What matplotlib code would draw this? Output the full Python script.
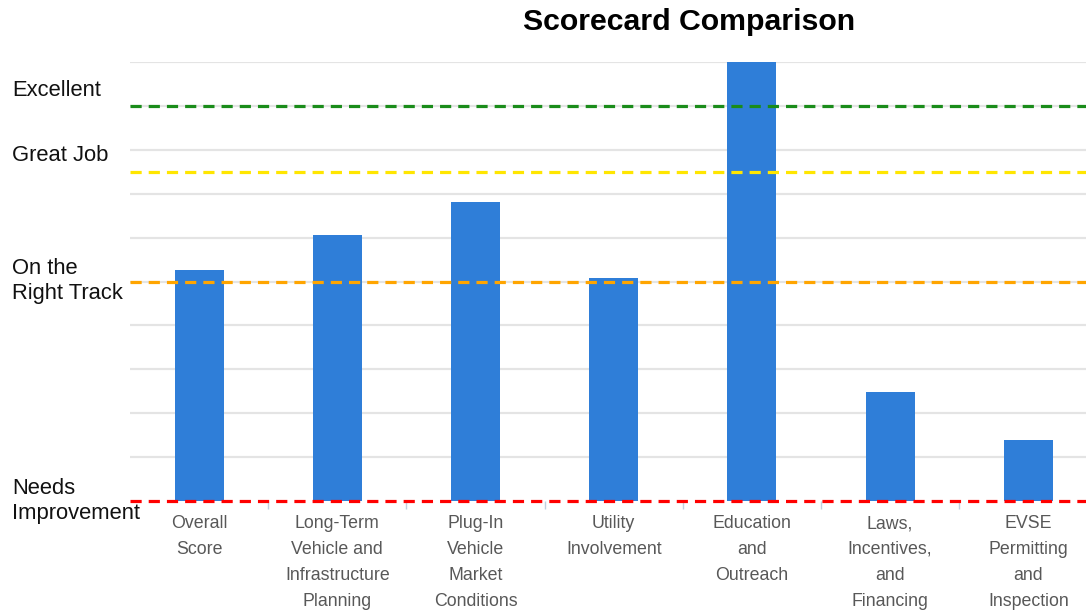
import matplotlib
matplotlib.use("Agg")
import matplotlib.pyplot as plt
from matplotlib.transforms import blended_transform_factory

categories = ["Overall\nScore", "Long-Term\nVehicle and\nInfrastructure\nPlanning",
              "Plug-In\nVehicle\nMarket\nConditions", "Utility\nInvolvement",
              "Education\nand\nOutreach", "Laws,\nIncentives,\nand\nFinancing",
              "EVSE\nPermitting\nand\nInspection"]
scores = [52.7, 60.7, 68.0, 50.7, 100.0, 24.8, 14.0]

level_names = ["Excellent", "Great Job", "On the\nRight Track", "Needs\nImprovement"]
level_values = [90, 75, 50, 0]
level_colors = ["#1a8c1a", "#ffe600", "#ffa500", "#ff0000"]
level_label_y = [93.6, 78.6, 50.0, 0.0]

plt.rcParams['font.family'] = ['Liberation Sans', 'DejaVu Sans']

W, H = 1086, 613
fig = plt.figure(figsize=(W / 100, H / 100), dpi=100)
ax = fig.add_axes([130 / W, 1 - 501 / H, (W - 130) / W, (501 - 62) / H])

x = list(range(len(categories)))
ax.set_ylim(0, 100)
ax.set_xlim(-0.5, -0.5 + (W - 130) / 138.2)

for v in range(10, 101, 10):
    ax.axhline(v, color="#e4e4e4", lw=1.6, zorder=0)

ax.bar(x, scores, width=0.355, color="#2f7ed8", zorder=2)

for v, c in zip(level_values, level_colors):
    ax.axhline(v, color=c, lw=2.3, ls=(0, (3.5, 2.2)), zorder=3, clip_on=False)

for s in ax.spines.values():
    s.set_visible(False)
ax.set_yticks([])
ax.set_xticks([i + 0.5 for i in range(len(categories) - 1)], minor=False)
ax.tick_params(axis='x', length=6, color="#c0d0e0", width=1, labelbottom=False)
for i, lab in enumerate(categories):
    ax.text(i, -3.2, lab, ha='center', va='top', fontsize=12.8, color="#585858",
            linespacing=1.68)

tr = blended_transform_factory(fig.transFigure, ax.transData)
for name, yv in zip(level_names, level_label_y):
    ax.text(12 / W, yv, name, transform=tr, ha='left', va='center', fontsize=15.8,
            color="#111111", linespacing=1.25, clip_on=False)

fig.text(689 / W, 1 - 22 / H, "Scorecard Comparison", ha='center', va='center',
         fontsize=21.8, fontweight='bold', color="#000000")

fig.savefig("out.png", dpi=100)
